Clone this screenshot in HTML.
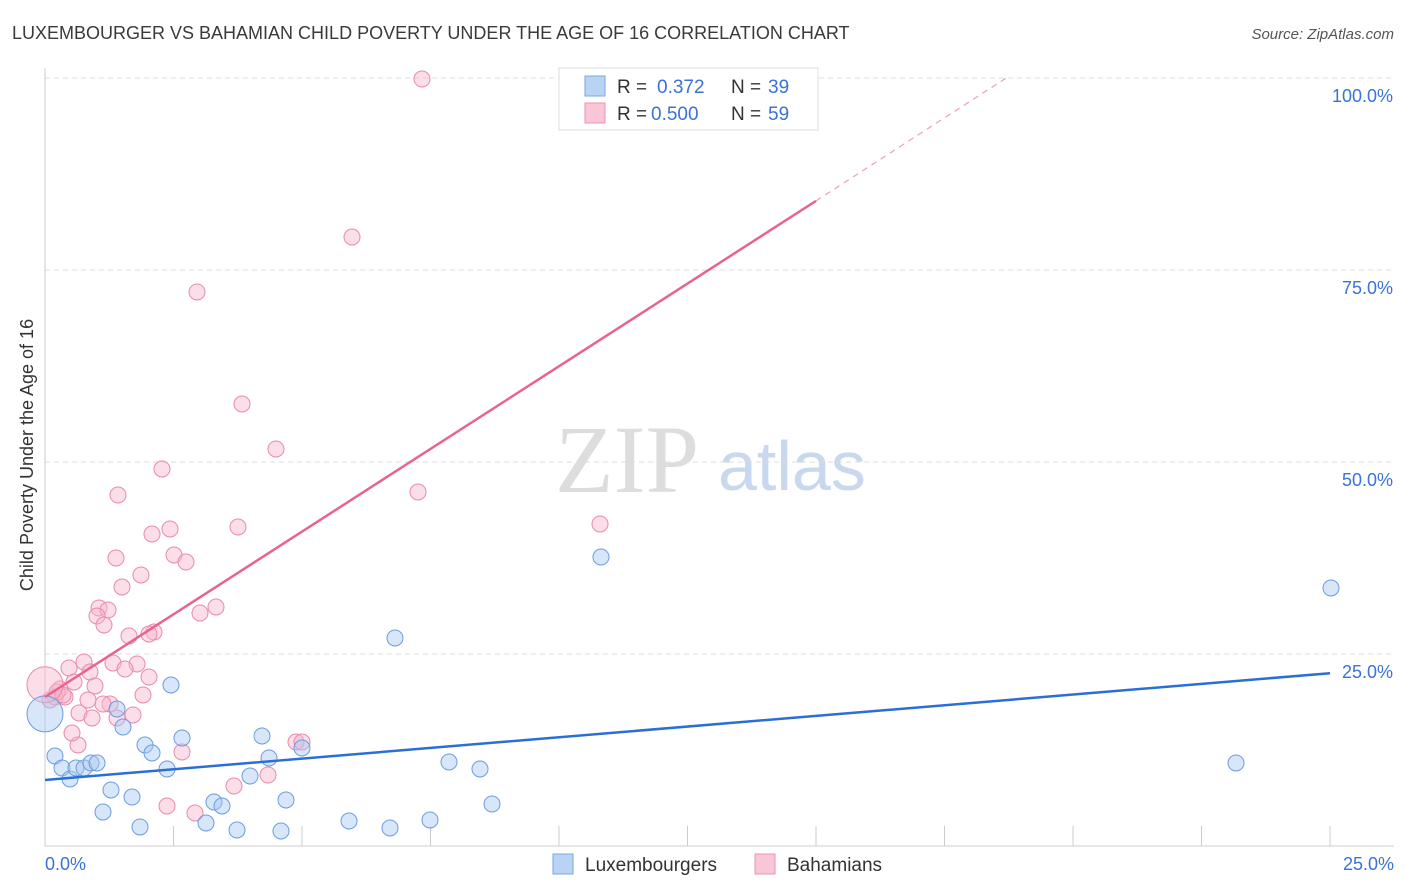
<!DOCTYPE html>
<html><head><meta charset="utf-8"><style>
body{margin:0;background:#fff;font-family:"Liberation Sans",sans-serif}
svg{display:block}
</style></head><body>
<svg id="chart" width="1406" height="892">
<text x="12" y="39" font-size="18" fill="#3a3a3a">LUXEMBOURGER VS BAHAMIAN CHILD POVERTY UNDER THE AGE OF 16 CORRELATION CHART</text>
<text x="1394" y="39" font-size="15" fill="#555" text-anchor="end" font-style="italic">Source: ZipAtlas.com</text>
<text transform="translate(33,455) rotate(-90)" font-size="18" fill="#333" text-anchor="middle">Child Poverty Under the Age of 16</text>
<text x="555" y="492" font-size="96" fill="#ddd" font-family="Liberation Serif,serif">ZIP</text>
<text x="718" y="490" font-size="70" fill="#c8d8ee">atlas</text>
<g id="grid"></g><g id="marks"></g>
<g>
<rect x="559" y="68" width="259" height="62" fill="#fff" stroke="#ddd"/>
<rect x="585" y="76" width="20" height="20" fill="#b9d3f5" stroke="#7aa7e0"/>
<rect x="585" y="103" width="20" height="20" fill="#f9c6d6" stroke="#eb93b0"/>
<text x="617" y="93" font-size="19" fill="#333">R =</text><text x="657" y="93" font-size="19" fill="#3a72d6">0.372</text>
<text x="731" y="93" font-size="19" fill="#333">N =</text><text x="768" y="93" font-size="19" fill="#3a72d6">39</text>
<text x="617" y="120" font-size="19" fill="#333">R =</text><text x="651" y="120" font-size="19" fill="#3a72d6">0.500</text>
<text x="731" y="120" font-size="19" fill="#333">N =</text><text x="768" y="120" font-size="19" fill="#3a72d6">59</text>
</g>
<g>
<rect x="553" y="854" width="20" height="20" fill="#b9d3f5" stroke="#7aa7e0"/>
<text x="585" y="871" font-size="19" fill="#333">Luxembourgers</text>
<rect x="755" y="854" width="20" height="20" fill="#f9c6d6" stroke="#eb93b0"/>
<text x="787" y="871" font-size="19" fill="#333">Bahamians</text>
</g>
</svg>
<script>
const yTicks=[25,50,75,100];
const xTickLabels=["0.0%","25.0%"];
const bluePts=[[55,756],[62,768],[70,779],[76,768],[84,768],[91,763],[97,763],[103,812],[111,790],[117,709],[123,727],[132,797],[140,827],[145,745],[152,753],[167,769],[171,685],[182,738],[206,823],[214,802],[222,806],[237,830],[250,776],[262,736],[269,758],[281,831],[286,800],[302,748],[349,821],[390,828],[395,638],[430,820],[449,762],[480,769],[492,804],[601,557],[1236,763],[1331,588]].map(p=>[(p[0]-45)/51.4,(846-p[1])/7.68]);
const pinkPts=[[422,79],[352,237],[197,292],[242,404],[276,449],[162,469],[418,492],[118,495],[600,524],[238,527],[170,529],[152,534],[116,558],[174,555],[186,562],[141,575],[122,587],[216,607],[99,608],[108,610],[200,613],[97,616],[104,625],[154,632],[149,634],[129,636],[113,663],[137,664],[84,662],[69,668],[125,669],[90,672],[149,677],[74,682],[60,689],[95,686],[143,695],[55,697],[65,697],[50,700],[110,704],[103,704],[79,713],[92,718],[133,715],[78,745],[72,733],[182,752],[296,742],[302,742],[234,786],[268,775],[167,806],[195,813],[57,692],[63,695],[117,718],[88,700]].map(p=>[(p[0]-45)/51.4,(846-p[1])/7.68]);
const blueBig=[0,17.2], pinkBig=[0,21];
const blueLine=[[0,8.6],[25,22.5]];
const pinkLine=[[0,19.4],[15,84]];
const pinkDash=[[15,84],[18.7,100]];
const X=v=>45+v*51.4, Y=v=>846-v*7.68;
const NS="http://www.w3.org/2000/svg";
function mk(t,a,p){const e=document.createElementNS(NS,t);for(const k in a)e.setAttribute(k,a[k]);p.appendChild(e);return e;}
const g=document.getElementById('grid'), m=document.getElementById('marks');
yTicks.forEach(t=>{
 const l=mk('line',{x1:45,x2:1394,y1:Y(t),y2:Y(t),stroke:'#ddd','stroke-dasharray':'5,4'},g);
 
 
 const tx=mk('text',{x:1393,y:Y(t)+24,'font-size':18,fill:'#3a72d6','text-anchor':'end'},g);tx.textContent=t.toFixed(1)+'%';
 
 
});
const ax=mk('line',{x1:45,x2:45,y1:68,y2:846,stroke:'#ccc'},g);


const bx=mk('line',{x1:45,x2:1394,y1:846,y2:846,stroke:'#ccc'},g);


for(let i=1;i<=10;i++){const xx=45+i*128.5;const t=mk('line',{x1:xx,x2:xx,y1:826,y2:846,stroke:'#ccc'},g);
 
 }
[[0,'start',45],[1,'end',1394]].forEach(([i,a,x])=>{const t=mk('text',{x:x,y:870,'font-size':18,fill:'#3a72d6','text-anchor':a},g);t.textContent=xTickLabels[i];
 
 });
function dot(p,r,f,s,name){const c=mk('circle',{cx:X(p[0]),cy:Y(p[1]),r:r,fill:f,'fill-opacity':0.45,stroke:s,'stroke-width':1},m);
 
 }
pinkPts.forEach(p=>dot(p,8,'#f7b6cb','#e98aaa','bahamian-point'));
dot(pinkBig,18,'#f7b6cb','#e98aaa','bahamian-point');
bluePts.forEach(p=>dot(p,8,'#a9c8f2','#6a9de0','luxembourger-point'));
dot(blueBig,18,'#a9c8f2','#6a9de0','luxembourger-point');
function line(a,attrs,name){const l=mk('line',Object.assign({x1:X(a[0][0]),y1:Y(a[0][1]),x2:X(a[1][0]),y2:Y(a[1][1])},attrs),m);
 
 }
line(blueLine,{stroke:'#2a6fd6','stroke-width':2.5},'luxembourger-trendline');
line(pinkLine,{stroke:'#e8648f','stroke-width':2.5},'bahamian-trendline');
line(pinkDash,{stroke:'#eba0b8','stroke-width':1.2,'stroke-dasharray':'6,5'},'bahamian-trendline-extension');
</script>
</body></html>
